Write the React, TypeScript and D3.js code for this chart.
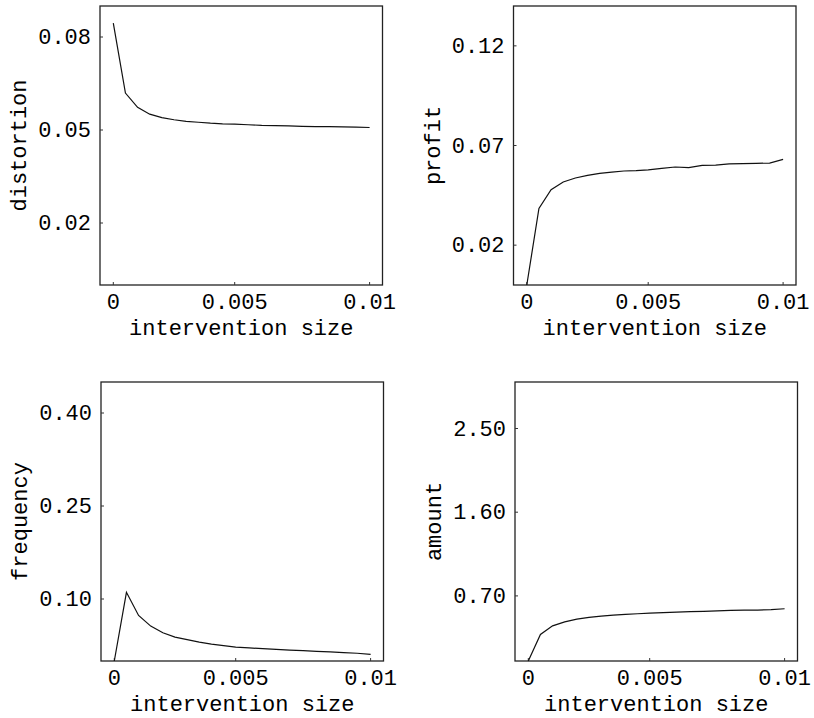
import * as d3 from "d3";
import { useEffect, useRef } from "react";

// intervention sizes (x values shared by all four panels)
const sizes = [
  0, 0.0005, 0.001, 0.0015, 0.002, 0.0025, 0.003, 0.0035, 0.004, 0.0045, 0.005,
  0.0055, 0.006, 0.0065, 0.007, 0.0075, 0.008, 0.0085, 0.009, 0.0095, 0.01,
];

const distortion = [
  0.0845, 0.0619, 0.0573, 0.0551, 0.054, 0.0533, 0.0528, 0.0525, 0.0522, 0.052,
  0.0519, 0.0517, 0.0515, 0.0514, 0.0513, 0.0512, 0.0511, 0.0511, 0.051, 0.0509,
  0.0508,
];

const profit = [
  0.0, 0.0384, 0.0478, 0.0517, 0.0537, 0.055, 0.056, 0.0566, 0.0572, 0.0574,
  0.0578, 0.0585, 0.0592, 0.0589, 0.06, 0.0602, 0.0608, 0.0609, 0.061, 0.0612,
  0.063,
];

const frequency = [
  0.0, 0.1108, 0.0735, 0.0563, 0.0456, 0.0386, 0.0344, 0.0305, 0.0273, 0.0248,
  0.0225, 0.0211, 0.0199, 0.0188, 0.0177, 0.0166, 0.0156, 0.0146, 0.0135,
  0.0125, 0.0108,
];

const amount = [
  0.0, 0.285, 0.378, 0.421, 0.45, 0.469, 0.483, 0.493, 0.501, 0.508, 0.515,
  0.521, 0.526, 0.53, 0.533, 0.539, 0.544, 0.546, 0.548, 0.553, 0.562,
];

const xTicks = [0, 0.005, 0.01];
const xTickLabels = ["0", "0.005", "0.01"];

const panels = [
  { name: "distortion", values: distortion, yMax: 0.09, ticks: [0.02, 0.05, 0.08], labels: ["0.02", "0.05", "0.08"], left: 100, top: 6 },
  { name: "profit", values: profit, yMax: 0.14, ticks: [0.02, 0.07, 0.12], labels: ["0.02", "0.07", "0.12"], left: 513.5, top: 6 },
  { name: "frequency", values: frequency, yMax: 0.45, ticks: [0.1, 0.25, 0.4], labels: ["0.10", "0.25", "0.40"], left: 101, top: 382 },
  { name: "amount", values: amount, yMax: 3, ticks: [0.7, 1.6, 2.5], labels: ["0.70", "1.60", "2.50"], left: 515, top: 382 },
];

const W = 814, H = 718;
const frameW = 282.5, frameH = 279;
const font = "'Liberation Mono', 'Courier New', monospace";

const App = () => {
  const ref = useRef(null);

  useEffect(() => {
    const svg = d3.select(ref.current);
    svg.selectAll("*").remove();

    panels.forEach((p) => {
      const g = svg.append("g").attr("transform", `translate(${p.left},${p.top})`);

      // the scanned original has its middle tick slightly off centre
      const x = d3.scaleLinear().domain([0, 0.005, 0.01]).range([13.3, 134.7, 269.6]);
      const y = d3.scaleLinear().domain([0, p.yMax]).range([frameH, 0]);

      // frame
      g.append("rect")
        .attr("width", frameW)
        .attr("height", frameH)
        .attr("fill", "none")
        .attr("stroke", "#222")
        .attr("stroke-width", 1.3);

      // small inward ticks
      g.selectAll(".xt")
        .data(xTicks)
        .join("line")
        .attr("x1", (d) => x(d))
        .attr("x2", (d) => x(d))
        .attr("y1", frameH)
        .attr("y2", frameH - 3)
        .attr("stroke", "#333");
      g.selectAll(".yt")
        .data(p.ticks)
        .join("line")
        .attr("x1", 0)
        .attr("x2", 3)
        .attr("y1", (d) => y(d))
        .attr("y2", (d) => y(d))
        .attr("stroke", "#333");

      // tick labels
      g.selectAll(".xl")
        .data(xTicks)
        .join("text")
        .attr("x", (d) => x(d))
        .attr("y", frameH + 23.5)
        .attr("text-anchor", "middle")
        .attr("font-family", font)
        .attr("font-size", 22)
        .text((d, i) => xTickLabels[i]);
      g.selectAll(".yl")
        .data(p.ticks)
        .join("text")
        .attr("x", -9)
        .attr("y", (d) => y(d))
        .attr("dy", "0.33em")
        .attr("text-anchor", "end")
        .attr("font-family", font)
        .attr("font-size", 22)
        .text((d, i) => p.labels[i]);

      // axis titles
      g.append("text")
        .attr("x", frameW / 2)
        .attr("y", frameH + 50)
        .attr("text-anchor", "middle")
        .attr("font-family", font)
        .attr("font-size", 22)
        .text("intervention size");
      g.append("text")
        .attr("transform", `translate(-74,${frameH / 2}) rotate(-90)`)
        .attr("text-anchor", "middle")
        .attr("font-family", font)
        .attr("font-size", 22)
        .text(p.name);

      // curve
      const line = d3
        .line()
        .x((d, i) => x(sizes[i]))
        .y((d) => y(d));
      g.append("path")
        .datum(p.values)
        .attr("d", line)
        .attr("fill", "none")
        .attr("stroke", "#111")
        .attr("stroke-width", 1.2);
    });
  }, []);

  return (
    <svg
      ref={ref}
      width={W}
      height={H}
      style={{ position: "absolute", left: 0, top: 0, background: "#fff" }}
    />
  );
};

export default App;
